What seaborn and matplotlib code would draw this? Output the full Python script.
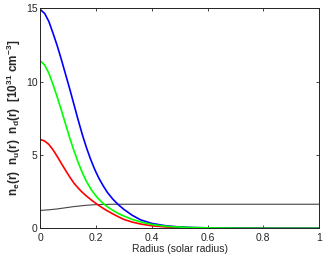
import numpy as np
import pandas as pd
import matplotlib
matplotlib.use("Agg")
import matplotlib.pyplot as plt
import seaborn as sns

# ---- data ----
radius = [0.000, 0.015, 0.030, 0.045, 0.060, 0.075, 0.090, 0.105, 0.120, 0.135,
          0.150, 0.165, 0.180, 0.195, 0.210, 0.225, 0.240, 0.260, 0.280, 0.300,
          0.330, 0.360, 0.400, 0.450, 0.500, 0.550, 0.600, 0.700, 0.800, 0.900, 1.000]
n_d = [14.9, 14.65, 14.1, 13.3, 12.45, 11.5, 10.5, 9.5, 8.45, 7.4,
       6.4, 5.5, 4.7, 4.0, 3.4, 2.9, 2.45, 1.98, 1.6, 1.28,
       0.88, 0.57, 0.33, 0.17, 0.09, 0.05, 0.03, 0.01, 0.0, 0.0, 0.0]
n_u = [11.4, 11.13, 10.57, 9.8, 8.95, 8.05, 7.1, 6.15, 5.3, 4.5,
       3.8, 3.2, 2.7, 2.3, 1.97, 1.7, 1.47, 1.22, 1.0, 0.83,
       0.6, 0.43, 0.26, 0.14, 0.08, 0.05, 0.03, 0.01, 0.0, 0.0, 0.0]
n_e = [6.05, 5.95, 5.72, 5.35, 4.9, 4.42, 3.95, 3.5, 3.08, 2.75,
       2.45, 2.2, 1.97, 1.75, 1.55, 1.36, 1.19, 0.98, 0.78, 0.6,
       0.42, 0.29, 0.17, 0.09, 0.05, 0.03, 0.02, 0.01, 0.0, 0.0, 0.0]
ratio = [1.22, 1.24, 1.26, 1.29, 1.32, 1.36, 1.40, 1.44, 1.48, 1.51,
         1.54, 1.57, 1.59, 1.61, 1.62, 1.63, 1.63, 1.64, 1.64, 1.64,
         1.64, 1.64, 1.64, 1.64, 1.64, 1.64, 1.64, 1.64, 1.64, 1.64, 1.64]
x_ticks = [0, 0.2, 0.4, 0.6, 0.8, 1.0]
x_ticklabels = ["0", "0.2", "0.4", "0.6", "0.8", "1"]
y_ticks = [0, 5, 10, 15]

sns.set_style("ticks")
plt.rcParams["font.family"] = ["Liberation Sans", "DejaVu Sans"]
plt.rcParams["mathtext.fontset"] = "custom"
plt.rcParams["mathtext.rm"] = "Liberation Sans"
plt.rcParams["mathtext.bf"] = "Liberation Sans:bold"
plt.rcParams["mathtext.it"] = "Liberation Sans:italic"
plt.rcParams["mathtext.default"] = "bf"

fig = plt.figure(figsize=(3.25, 2.57), dpi=100)
ax = fig.add_axes([0.1246, 0.1117, 0.857, 0.856])

df_main = pd.DataFrame({
    "r": radius * 3,
    "n": n_e + n_d + n_u,
    "series": ["e"] * len(radius) + ["d"] * len(radius) + ["u"] * len(radius),
})
df_ratio = pd.DataFrame({"r": radius, "n": ratio})

sns.lineplot(data=df_ratio, x="r", y="n", color="#444444", lw=0.8, ax=ax)
sns.lineplot(data=df_main, x="r", y="n", hue="series",
             hue_order=["e", "d", "u"],
             palette={"e": "#ff0000", "d": "#0000ff", "u": "#00ff00"},
             lw=1.2, legend=False, ax=ax)

ax.set_xlim(0, 1)
ax.set_ylim(0, 15)
ax.set_xticks(x_ticks)
ax.set_xticklabels(x_ticklabels)
ax.set_yticks(y_ticks)
ax.tick_params(direction="in", length=2.5, width=0.6, labelsize=7.5,
               top=True, right=True, color="#222222")
ax.tick_params(axis="x", pad=3.5)
ax.tick_params(axis="y", pad=2)
for s in ax.spines.values():
    s.set_linewidth(0.7)
    s.set_color("#222222")

ax.set_xlabel("Radius (solar radius)", fontsize=7.5, labelpad=0.5)
ax.set_ylabel(r"n$_\mathbf{e}$(r)  n$_\mathbf{u}$(r)  n$_\mathbf{d}$(r)  [10$^\mathbf{31}$ cm$^\mathbf{-3}$]",
              fontsize=8.5, fontweight="bold", labelpad=2.5)

fig.savefig("out.png", dpi=100)
